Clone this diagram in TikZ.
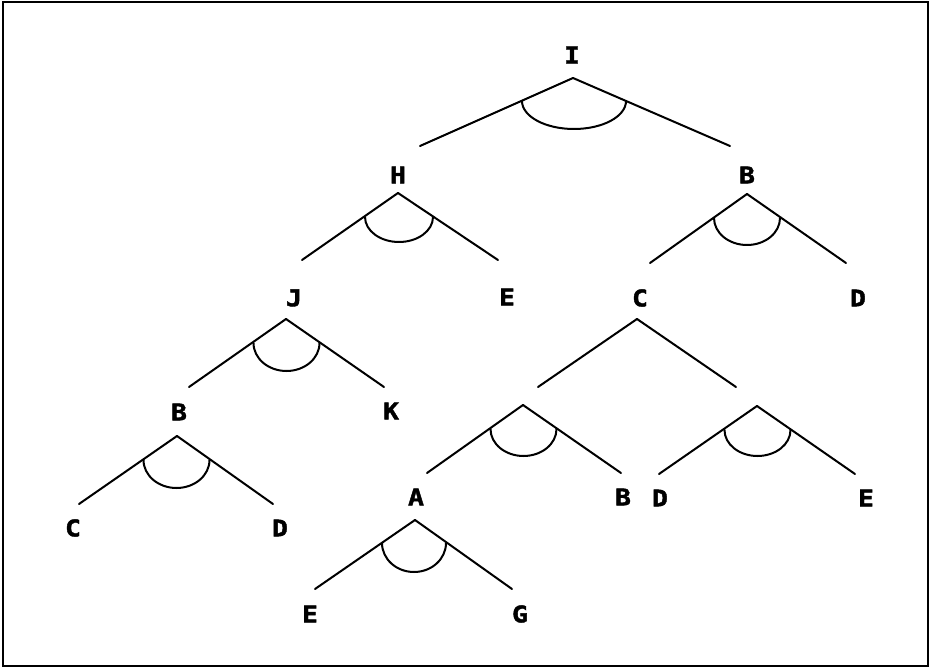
\documentclass[tikz,border=0pt]{standalone}
\usepackage{fontspec}
\newfontfamily\labelfont{DejaVu Sans Mono}[BoldFeatures={FakeBold=1.8,FakeStretch=1.15}]
\begin{document}
\begin{tikzpicture}[x=1pt,y=-1pt,
  lbl/.style={font=\labelfont\bfseries\fontsize{23}{23}\selectfont, inner sep=0pt, anchor=center},
  branch/.style={line width=2pt, line cap=round},
  wedge/.style={line width=2pt, line cap=round},
  frame/.style={line width=2pt}]
\useasboundingbox (0,0) rectangle (935,668);
\draw[frame] (3,2) rectangle (928,666);

% labels
\node[lbl] (I)  at (572,55)  {I};
\node[lbl] (H)  at (398,175) {H};
\node[lbl] (B1) at (747,175) {B};
\node[lbl] (J)  at (294,298) {J};
\node[lbl] (E1) at (507,297) {E};
\node[lbl] (C1) at (640,298) {C};
\node[lbl] (D1) at (858,298) {D};
\node[lbl] (B2) at (179,412) {B};
\node[lbl] (K)  at (391,411) {K};
\node[lbl] (A)  at (416,497) {A};
\node[lbl] (B3) at (623,497) {B};
\node[lbl] (D3) at (660,498) {D};
\node[lbl] (E3) at (866,498) {E};
\node[lbl] (C2) at (73,528)  {C};
\node[lbl] (D2) at (280,528) {D};
\node[lbl] (E2) at (310,614) {E};
\node[lbl] (G)  at (520,614) {G};

% branch points: apex, left end, right end, arc centre
\coordinate (Ia) at (573,78);  \coordinate (Il) at (420,146); \coordinate (Ir) at (730,146); \coordinate (Ic) at (574,101);
\coordinate (Ha) at (398,193); \coordinate (Hl) at (302,260); \coordinate (Hr) at (498,260); \coordinate (Hc) at (399,217);
\coordinate (Ba) at (747,194); \coordinate (Bl) at (650,263); \coordinate (Br) at (846,263); \coordinate (Bc) at (747,218);
\coordinate (Ja) at (286,319); \coordinate (Jl) at (189,387); \coordinate (Jr) at (384,387); \coordinate (Jc) at (286.5,343);
\coordinate (Ca) at (637,319); \coordinate (Cl) at (538,387); \coordinate (Cr) at (736,387);
\coordinate (Ka) at (177,436); \coordinate (Kl) at (79,504);  \coordinate (Kr) at (273,504); \coordinate (Kc) at (176.5,460);
\coordinate (La) at (523,405); \coordinate (Ll) at (427,473); \coordinate (Lr) at (621,473); \coordinate (Lc) at (523.5,429);
\coordinate (Ra) at (757,406); \coordinate (Rl) at (659,474); \coordinate (Rr) at (855,474); \coordinate (Rc) at (757.5,430);
\coordinate (Aa) at (415,520); \coordinate (Al) at (315,589); \coordinate (Ar) at (512,589); \coordinate (Ac) at (414,543);

% branches
\foreach \p in {I,H,B,J,C,K,L,R,A}{
  \draw[branch] (\p a) -- (\p l);
  \draw[branch] (\p a) -- (\p r);
}

% conjunction arcs
\draw[wedge] ([xshift=-52pt]Ic) arc[start angle=180,end angle=0,x radius=52,y radius=28];
\draw[wedge] ([xshift=-34pt]Hc) arc[start angle=180,end angle=0,x radius=34,y radius=25];
\draw[wedge] ([xshift=-33pt]Bc) arc[start angle=180,end angle=0,x radius=33,y radius=27];
\draw[wedge] ([xshift=-33pt]Jc) arc[start angle=180,end angle=0,x radius=33,y radius=28];
\draw[wedge] ([xshift=-33pt]Kc) arc[start angle=180,end angle=0,x radius=33,y radius=28];
\draw[wedge] ([xshift=-33pt]Lc) arc[start angle=180,end angle=0,x radius=33,y radius=27];
\draw[wedge] ([xshift=-33pt]Rc) arc[start angle=180,end angle=0,x radius=33,y radius=26];
\draw[wedge] ([xshift=-32pt]Ac) arc[start angle=180,end angle=0,x radius=32,y radius=29];
\end{tikzpicture}
\end{document}
